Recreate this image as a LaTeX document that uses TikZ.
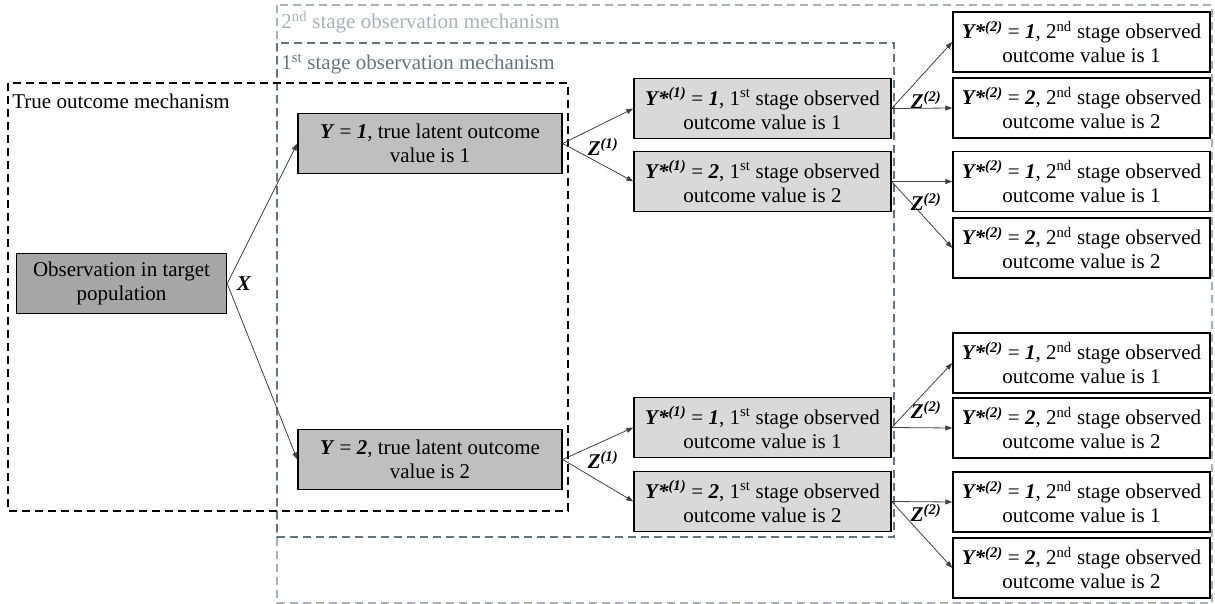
\documentclass[tikz,border=0pt]{standalone}
\usepackage{fontspec}
\setmainfont{Liberation Serif}
\usetikzlibrary{arrows.meta}

\definecolor{stagetwocol}{HTML}{A9B1B8}
\definecolor{stageonecol}{HTML}{627482}
\definecolor{obsfill}{HTML}{A6A6A6}
\definecolor{latentfill}{HTML}{BFBFBF}
\definecolor{firstfill}{HTML}{D9D9D9}

\newcommand{\bi}[1]{\textbf{\textit{#1}}}

\begin{document}
\begin{tikzpicture}[x=1pt, y=-1pt, ->, >={Triangle[length=7pt, width=5pt]}, line width=0.8pt, draw=black!75,
	box/.style={draw=black, line width=1.4pt, align=center, inner sep=0pt, minimum height=60pt, font=\fontsize{21}{24}\selectfont},
	obsbox/.style={box, fill=obsfill, minimum width=210pt},
	latent/.style={box, fill=latentfill, minimum width=264pt},
	first/.style={box, fill=firstfill, minimum width=257pt},
	second/.style={box, fill=white, minimum width=257pt},
	frame/.style={-, line width=1.3pt, dash pattern=on 8pt off 5pt},
	framelab/.style={anchor=west, inner sep=0pt, font=\fontsize{21}{24}\selectfont},
	lab/.style={inner sep=0pt, font=\fontsize{21}{24}\selectfont\bfseries\itshape}]
	\useasboundingbox (0,0) rectangle (1215,604);

	% mechanism frames
	\draw[frame, stagetwocol] (277,5) rectangle (1212,603);
	\draw[frame, stageonecol] (277,43) rectangle (894,537);
	\draw[frame, black] (8,83) rectangle (568,511);
	\node[framelab, text=stagetwocol] (lab2) at (281,22) {2\textsuperscript{nd} stage observation mechanism};
	\node[framelab, text=stageonecol] (lab1) at (281,64) {1\textsuperscript{st} stage observation mechanism};
	\node[framelab] (lab0) at (12,101) {True outcome mechanism};

	% boxes
	\node[obsbox] (obs) at (121.5,283.5) {Observation in target\\population};
	\node[latent] (y1) at (430,143.5) {\bi{Y} = \bi{1}, true latent outcome\\value is 1};
	\node[latent] (y2) at (430,459.5) {\bi{Y} = \bi{2}, true latent outcome\\value is 2};

	\node[first] (a1) at (762.5,108.5) {\bi{Y*\textsuperscript{(1)}} = \bi{1}, 1\textsuperscript{st} stage observed\\outcome value is 1};
	\node[first] (a2) at (762.5,181.5) {\bi{Y*\textsuperscript{(1)}} = \bi{2}, 1\textsuperscript{st} stage observed\\outcome value is 2};
	\node[first] (a3) at (762.5,427.5) {\bi{Y*\textsuperscript{(1)}} = \bi{1}, 1\textsuperscript{st} stage observed\\outcome value is 1};
	\node[first] (a4) at (762.5,501.5) {\bi{Y*\textsuperscript{(1)}} = \bi{2}, 1\textsuperscript{st} stage observed\\outcome value is 2};

	\node[second] (b1) at (1081.5,42) {\bi{Y*\textsuperscript{(2)}} = \bi{1}, 2\textsuperscript{nd} stage observed\\outcome value is 1};
	\node[second] (b2) at (1081.5,108) {\bi{Y*\textsuperscript{(2)}} = \bi{2}, 2\textsuperscript{nd} stage observed\\outcome value is 2};
	\node[second] (b3) at (1081.5,181.5) {\bi{Y*\textsuperscript{(2)}} = \bi{1}, 2\textsuperscript{nd} stage observed\\outcome value is 1};
	\node[second] (b4) at (1081.5,248) {\bi{Y*\textsuperscript{(2)}} = \bi{2}, 2\textsuperscript{nd} stage observed\\outcome value is 2};
	\node[second] (b5) at (1081.5,363) {\bi{Y*\textsuperscript{(2)}} = \bi{1}, 2\textsuperscript{nd} stage observed\\outcome value is 1};
	\node[second] (b6) at (1081.5,428) {\bi{Y*\textsuperscript{(2)}} = \bi{2}, 2\textsuperscript{nd} stage observed\\outcome value is 2};
	\node[second] (b7) at (1081.5,502) {\bi{Y*\textsuperscript{(2)}} = \bi{1}, 2\textsuperscript{nd} stage observed\\outcome value is 1};
	\node[second] (b8) at (1081.5,568) {\bi{Y*\textsuperscript{(2)}} = \bi{2}, 2\textsuperscript{nd} stage observed\\outcome value is 2};

	% arrows
	\path (obs.east) edge (y1.west) edge (y2.west)
		(y1.east) edge (a1.west) edge (a2.west)
		(y2.east) edge (a3.west) edge (a4.west)
		(a1.east) edge (b1.west) edge (b2.west)
		(a2.east) edge (b3.west) edge (b4.west)
		(a3.east) edge (b5.west) edge (b6.west)
		(a4.east) edge (b7.west) edge (b8.west);

	% arrow labels
	\node[lab] (x) at (244,284) {X};
	\node[lab] (z1) at (603,147) {Z\textsuperscript{(1)}};
	\node[lab] (z2) at (603,460) {Z\textsuperscript{(1)}};
	\node[lab] (z3) at (926,100) {Z\textsuperscript{(2)}};
	\node[lab] (z4) at (926,202) {Z\textsuperscript{(2)}};
	\node[lab] (z5) at (926,410) {Z\textsuperscript{(2)}};
	\node[lab] (z6) at (926,513) {Z\textsuperscript{(2)}};
\end{tikzpicture}
\end{document}
